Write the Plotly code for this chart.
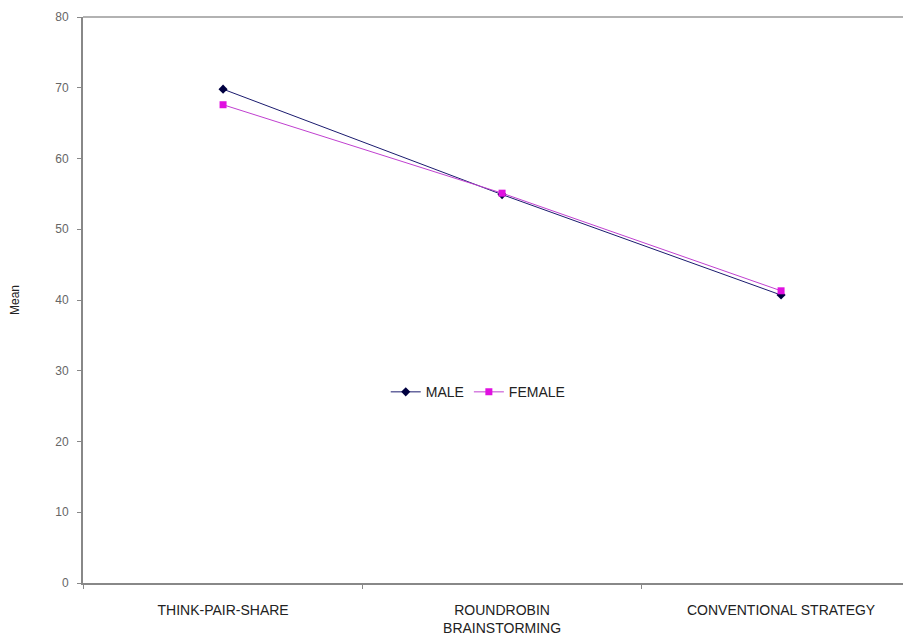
import plotly.graph_objects as go

categories = ["THINK-PAIR-SHARE", "ROUNDROBIN<br>BRAINSTORMING", "CONVENTIONAL STRATEGY"]
male = [69.8, 54.9, 40.7]
female = [67.6, 55.1, 41.3]
y_ticks = [0, 10, 20, 30, 40, 50, 60, 70, 80]

fig = go.Figure()
fig.add_trace(go.Scatter(
    x=categories, y=male, name="MALE", mode="lines+markers",
    line=dict(color="#1a1a6e", width=1),
    marker=dict(symbol="diamond", size=7, color="#000040"),
))
fig.add_trace(go.Scatter(
    x=categories, y=female, name="FEMALE", mode="lines+markers",
    line=dict(color="#c040d0", width=1),
    marker=dict(symbol="square", size=7, color="#e010e0"),
))

fig.update_layout(
    width=895, height=628,
    margin=dict(l=75, r=0, t=9, b=53, autoexpand=False),
    paper_bgcolor="white", plot_bgcolor="white",
    font=dict(family="Liberation Sans, Arial", size=12, color="#222"),
    showlegend=True,
    legend=dict(
        orientation="h", x=0.482, y=0.337, xanchor="center", yanchor="middle",
        font=dict(size=14, color="#222"), bgcolor="rgba(0,0,0,0)",
        itemwidth=30, tracegroupgap=0,
    ),
    xaxis=dict(
        type="category", range=[-0.502, 2.437], automargin=False,
        tickson="boundaries", ticks="outside", ticklen=4, tickcolor="#888",
        showline=True, linecolor="#888", linewidth=2,
        showgrid=False, zeroline=False,
        tickfont=dict(size=14, color="#222"),
        ticklabelstandoff=13,
    ),
    yaxis=dict(
        range=[0, 80], tickvals=y_ticks, automargin=False,
        ticks="outside", ticklen=4, tickcolor="#888",
        showline=True, linecolor="#888", linewidth=2,
        showgrid=False, zeroline=False,
        tickfont=dict(size=12, color="#666"),
        ticklabelstandoff=6,
        title=dict(text="Mean", font=dict(size=12, color="#222"), standoff=40),
    ),
)
# top border of plot area
fig.add_shape(type="line", xref="paper", yref="paper", x0=0, x1=1, y0=1, y1=1,
              line=dict(color="#999", width=1.5))

fig.write_html("out.html")
